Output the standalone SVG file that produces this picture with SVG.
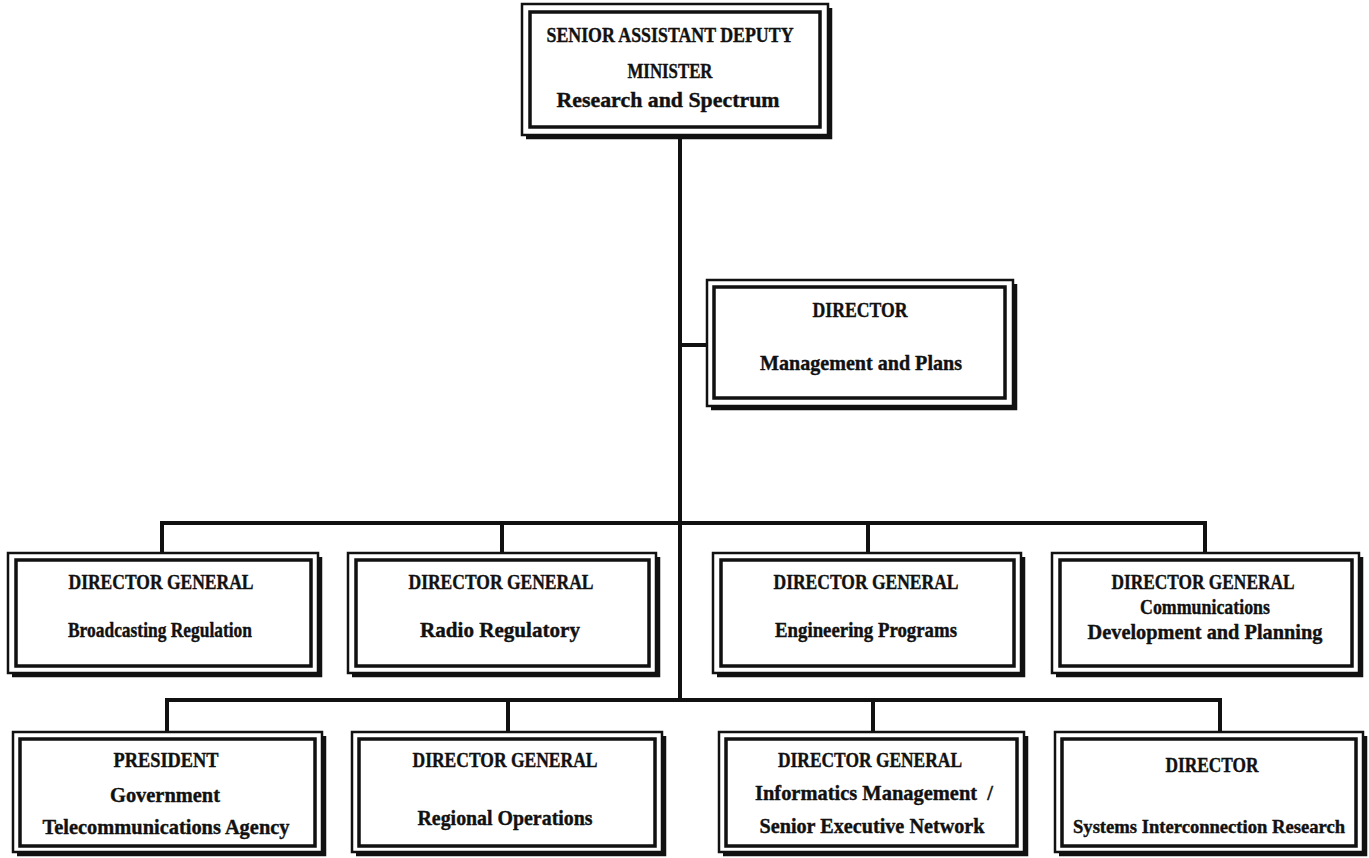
<svg xmlns="http://www.w3.org/2000/svg" width="1369" height="858" viewBox="0 0 1369 858">
<style>
.o{fill:#fff;stroke:#111;stroke-width:2.5}
.i{fill:none;stroke:#111;stroke-width:3.5}
.sh{fill:none;stroke:#111;stroke-width:4.5;stroke-linejoin:miter}
.t{font-family:"Liberation Serif","Times New Roman",serif;font-weight:bold;font-size:22px;fill:#111;stroke:#111;stroke-width:0.4;text-anchor:middle}
.c{fill:none;stroke:#111;stroke-width:4;stroke-linejoin:miter}
</style>
<rect width="1369" height="858" fill="#fff"/>
<g id="connectors">
<path class="c" d="M680 136 V700"/>
<path class="c" d="M680 345 H708"/>
<path class="c" d="M162 553 V523 H1205 V553 M502 523 V553 M868 523 V553"/>
<path class="c" d="M167 732 V700 H1220 V732 M508 700 V732 M873 700 V732"/>
</g>
<g id="n-sadm">
<rect class="o" x="522" y="4" width="306" height="131"/>
<path class="sh" d="M830 8 V137 H526"/>
<rect class="i" x="530" y="12" width="290" height="115"/>
<text class="t" x="670" y="42" textLength="247" lengthAdjust="spacingAndGlyphs">SENIOR ASSISTANT DEPUTY</text>
<text class="t" x="670" y="78" textLength="85" lengthAdjust="spacingAndGlyphs">MINISTER</text>
<text class="t" x="668" y="107" textLength="223" lengthAdjust="spacingAndGlyphs">Research and Spectrum</text>
</g>
<g id="n-mgmt">
<rect class="o" x="707" y="280" width="306" height="126"/>
<path class="sh" d="M1015 284 V408 H711"/>
<rect class="i" x="714" y="287" width="291" height="111"/>
<text class="t" x="860" y="317" textLength="95" lengthAdjust="spacingAndGlyphs">DIRECTOR</text>
<text class="t" x="861" y="370" textLength="202" lengthAdjust="spacingAndGlyphs">Management and Plans</text>
</g>
<g id="n-broadcast">
<rect class="o" x="8" y="553" width="310" height="120"/>
<path class="sh" d="M320 557 V675 H12"/>
<rect class="i" x="16" y="560" width="295" height="106"/>
<text class="t" x="161" y="589" textLength="185" lengthAdjust="spacingAndGlyphs">DIRECTOR GENERAL</text>
<text class="t" x="160" y="637" textLength="184" lengthAdjust="spacingAndGlyphs">Broadcasting Regulation</text>
</g>
<g id="n-radio">
<rect class="o" x="348" y="553" width="308" height="120"/>
<path class="sh" d="M658 557 V675 H352"/>
<rect class="i" x="356" y="560" width="293" height="106"/>
<text class="t" x="501" y="589" textLength="185" lengthAdjust="spacingAndGlyphs">DIRECTOR GENERAL</text>
<text class="t" x="500" y="637" textLength="160" lengthAdjust="spacingAndGlyphs">Radio Regulatory</text>
</g>
<g id="n-eng">
<rect class="o" x="713" y="553" width="308" height="120"/>
<path class="sh" d="M1023 557 V675 H717"/>
<rect class="i" x="721" y="560" width="293" height="106"/>
<text class="t" x="866" y="589" textLength="185" lengthAdjust="spacingAndGlyphs">DIRECTOR GENERAL</text>
<text class="t" x="866" y="637" textLength="182" lengthAdjust="spacingAndGlyphs">Engineering Programs</text>
</g>
<g id="n-comm">
<rect class="o" x="1052" y="553" width="307" height="120"/>
<path class="sh" d="M1361 557 V675 H1056"/>
<rect class="i" x="1060" y="560" width="292" height="106"/>
<text class="t" x="1203" y="589" textLength="183" lengthAdjust="spacingAndGlyphs">DIRECTOR GENERAL</text>
<text class="t" x="1205" y="614" textLength="130" lengthAdjust="spacingAndGlyphs">Communications</text>
<text class="t" x="1205" y="639" textLength="235" lengthAdjust="spacingAndGlyphs">Development and Planning</text>
</g>
<g id="n-gta">
<rect class="o" x="13" y="732" width="309" height="120"/>
<path class="sh" d="M324 736 V854 H17"/>
<rect class="i" x="20" y="739" width="295" height="107"/>
<text class="t" x="166" y="767" textLength="105" lengthAdjust="spacingAndGlyphs">PRESIDENT</text>
<text class="t" x="165" y="802" textLength="110" lengthAdjust="spacingAndGlyphs">Government</text>
<text class="t" x="166" y="834" textLength="247" lengthAdjust="spacingAndGlyphs">Telecommunications Agency</text>
</g>
<g id="n-regional">
<rect class="o" x="352" y="732" width="310" height="120"/>
<path class="sh" d="M664 736 V854 H356"/>
<rect class="i" x="359" y="739" width="296" height="107"/>
<text class="t" x="505" y="767" textLength="185" lengthAdjust="spacingAndGlyphs">DIRECTOR GENERAL</text>
<text class="t" x="505" y="825" textLength="175" lengthAdjust="spacingAndGlyphs">Regional Operations</text>
</g>
<g id="n-informatics">
<rect class="o" x="719" y="732" width="305" height="120"/>
<path class="sh" d="M1026 736 V854 H723"/>
<rect class="i" x="726" y="739" width="291" height="107"/>
<text class="t" x="870" y="767" textLength="184" lengthAdjust="spacingAndGlyphs">DIRECTOR GENERAL</text>
<text class="t" x="874" y="800" textLength="238" lengthAdjust="spacingAndGlyphs" xml:space="preserve">Informatics Management  /</text>
<text class="t" x="872" y="833" textLength="225" lengthAdjust="spacingAndGlyphs">Senior Executive Network</text>
</g>
<g id="n-sir">
<rect class="o" x="1055" y="732" width="308" height="120"/>
<path class="sh" d="M1365 736 V854 H1059"/>
<rect class="i" x="1062" y="739" width="294" height="107"/>
<text class="t" x="1212" y="772" textLength="93" lengthAdjust="spacingAndGlyphs">DIRECTOR</text>
<text class="t" x="1209" y="833" style="font-size:19px" textLength="272" lengthAdjust="spacingAndGlyphs">Systems Interconnection Research</text>
</g>
</svg>
